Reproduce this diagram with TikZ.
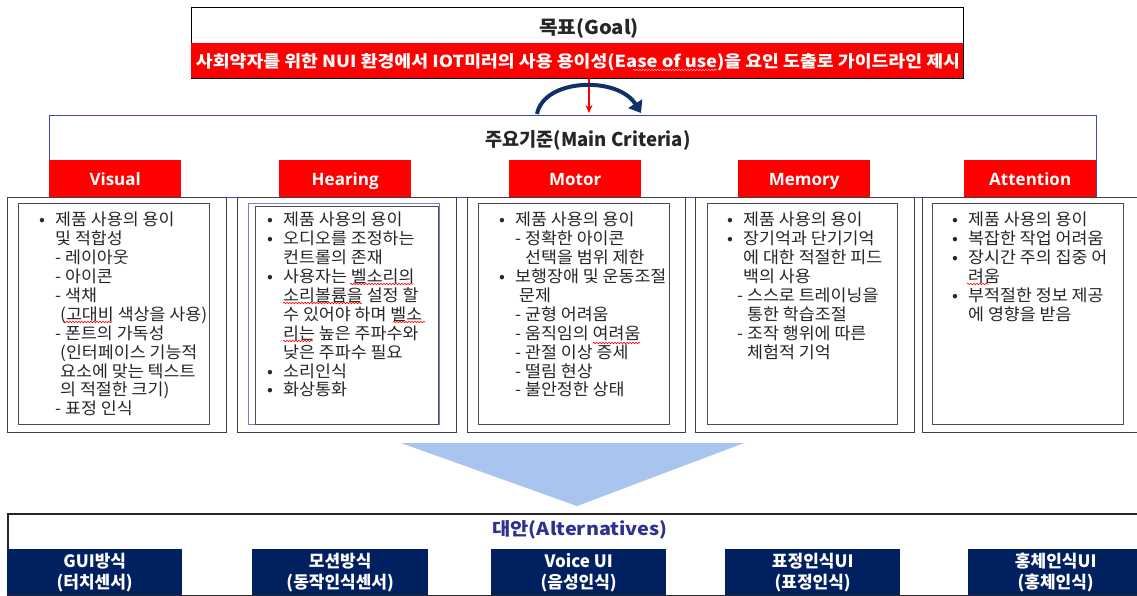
\documentclass[tikz,border=0pt]{standalone}
\usepackage{fontspec}
\setmainfont{Noto Sans CJK KR}
\newfontfamily\tabfont{Open Sans}
\newfontfamily\bodyfont{Noto Sans CJK KR}[FakeStretch=1.05]
\usetikzlibrary{arrows.meta,decorations.pathmorphing}
\definecolor{myred}{HTML}{FF0000}
\definecolor{navybox}{HTML}{002060}
\definecolor{critblue}{HTML}{3F48B8}
\definecolor{arrownavy}{HTML}{10306A}
\definecolor{trifill}{HTML}{A9C4EE}
\definecolor{alttext}{HTML}{2E3192}
\definecolor{bodytext}{HTML}{262626}
\tikzset{
  tabbox/.style={fill=myred, text=white, font=\tabfont\bfseries\fontsize{17}{20}\selectfont,
     minimum width=132pt, minimum height=37pt, inner sep=0pt, anchor=north west,
     text height=14pt, text depth=1pt},
  outerbox/.style={draw=black!75, line width=1pt, anchor=north west, inner sep=0pt,
     minimum height=235pt},
  innerbox/.style={draw=black!70, line width=1pt, anchor=north west, inner sep=0pt,
     minimum height=221pt},
  coltext/.style={anchor=north west, inner sep=0pt, align=left, text=bodytext,
     font=\bodyfont\fontsize{16.5}{18.9}\selectfont},
  altbox/.style={fill=navybox, text=white, font=\bfseries\fontsize{17}{21}\selectfont,
     align=center, anchor=north west, inner sep=0pt, minimum height=46pt},
  spell/.style={draw=myred, line width=0.6pt, decorate,
     decoration={snake, amplitude=0.8pt, segment length=3pt}},
}
\newcommand{\bl}{\makebox[16pt][l]{•}}
\newcommand{\ct}{\hspace*{16pt}}
\begin{document}
\begin{tikzpicture}[x=1pt,y=-1pt]
\useasboundingbox (0,0) rectangle (1137,595);
\fill[white] (0,0) rectangle (1137,595);

% Goal
\node[draw=black, line width=1.3pt, minimum width=772pt, minimum height=71pt, anchor=north west, inner sep=0pt] (goal) at (191,7) {};
\node[font=\bfseries\fontsize{20}{24}\selectfont, text=black!85] (goaltitle) at (589,28) {\resizebox{100pt}{16pt}{목표(Goal)}};
\node[fill=myred, minimum width=772pt, minimum height=35pt, anchor=north west, inner sep=0pt] (goalbar) at (191,43) {};
\node[text=white, font=\bfseries\fontsize{18}{22}\selectfont, inner sep=0pt] (goaltext) at (578,62)
  {\resizebox{764pt}{14pt}{사회약자를 위한 NUI 환경에서 IOT미러의 사용 용이성(Ease of use)을 요인 도출로 가이드라인 제시}};
\draw[spell, draw=white!65!myred] (633,70) -- (717,70);

% Main criteria frame
\node[draw=critblue, line width=1.3pt, minimum width=1047pt, minimum height=82pt, anchor=north west, inner sep=0pt] (crit) at (49,115) {};
\node[font=\bfseries\fontsize{20}{24}\selectfont, text=black!85] (crittitle) at (588,140) {\resizebox{205pt}{16pt}{주요기준(Main Criteria)}};

% arrows between goal and criteria
\coordinate (ra) at (589,113);
\draw[myred, line width=1.2pt, -{Stealth[length=8pt,width=7pt]}] (goalbar.south -| ra) -- (ra);
\coordinate (cs) at (537,114);
\coordinate (ce) at (641,113);
\draw[arrownavy, line width=4pt, -{Triangle[length=11pt,width=16pt]}] (cs) .. controls (544,78) and (618,76) .. (ce);

% tabs
\node[tabbox] (tvis) at (49,160) {Visual};
\node[tabbox] (thear) at (279,160) {Hearing};
\node[tabbox] (tmot) at (509,160) {Motor};
\node[tabbox] (tmem) at (738,160) {Memory};
\node[tabbox] (tatt) at (964,160) {Attention};

% outer boxes
\node[outerbox, minimum width=219pt] (ovis) at (7,197) {};
\node[outerbox, minimum width=219pt] (ohear) at (237,197) {};
\node[outerbox, minimum width=218pt] (omot) at (467,197) {};
\node[outerbox, minimum width=219pt] (omem) at (695,197) {};
\node[outerbox, minimum width=220pt] (oatt) at (922,197) {};

% inner boxes
\node[innerbox, minimum width=191pt] (ivis) at (18,203) {};
\node[draw=critblue!70, line width=1pt, anchor=north west, inner sep=0pt, minimum width=191pt, minimum height=221pt] (ihearb) at (248,203) {};
\node[innerbox, minimum width=183pt, minimum height=218pt] (ihear) at (255,206) {};
\node[innerbox, minimum width=191pt] (imot) at (478,203) {};
\node[innerbox, minimum width=190pt] (imem) at (707,203) {};
\node[innerbox, minimum width=191pt] (iatt) at (932,203) {};

% column texts
\node[coltext] (xvis) at (39,212) {%
\bl 제품 사용의 용이\\
\ct 및 적합성\\
\ct - 레이아웃\\
\ct - 아이콘\\
\ct - 색채\\
\hspace*{21pt}(고대비 색상을 사용)\\
\ct - 폰트의 가독성\\
\hspace*{21pt}(인터페이스 기능적\\
\hspace*{21pt}요소에 맞는 텍스트\\
\hspace*{21pt}의 적절한 크기)\\
\ct - 표정 인식};

\node[coltext] (xhear) at (267,212) {%
\bl 제품 사용의 용이\\
\bl 오디오를 조정하는\\
\ct 컨트롤의 존재\\
\bl 사용자는 벨소리의\\
\ct 소리볼륨을 설정 할\\
\ct 수 있어야 하며 벨소\\
\ct 리는 높은 주파수와\\
\ct 낮은 주파수 필요\\
\bl 소리인식\\
\bl 화상통화};

\node[coltext] (xmot) at (499,212) {%
\bl 제품 사용의 용이\\
\ct - 정확한 아이콘\\
\hspace*{26pt}선택을 범위 제한\\
\bl 보행장애 및 운동조절\\
\hspace*{20pt}문제\\
\ct - 균형 어려움\\
\ct - 움직임의 여려움\\
\ct - 관절 이상 증세\\
\ct - 떨림 현상\\
\ct - 불안정한 상태};

\node[coltext] (xmem) at (727,212) {%
\bl 제품 사용의 용이\\
\bl 장기억과 단기기억\\
\ct 에 대한 적절한 피드\\
\ct 백의 사용\\
\hspace*{10pt}- 스스로 트레이닝을\\
\hspace*{20pt}통한 학습조절\\
\hspace*{10pt}- 조작 행위에 따른\\
\hspace*{20pt}체험적 기억};

\node[coltext] (xatt) at (952,212) {%
\bl 제품 사용의 용이\\
\bl 복잡한 작업 어려움\\
\bl 장시간 주의 집중 어\\
\ct 려움\\
\bl 부적절한 정보 제공\\
\ct 에 영향을 받음};

% spell-check underlines
\draw[spell] (63,322) -- (112,322);
\draw[spell] (350,284) -- (413,284);
\draw[spell] (283,303) -- (362,303);
\draw[spell] (393,322) -- (425,322);
\draw[spell] (283,341) -- (313,341);
\draw[spell] (593,343) -- (640,343);
\draw[spell] (967,284) -- (988,284);

% big arrow triangle
\fill[trifill] (401,443) -- (744,443) -- (577,506) -- cycle;

% alternatives
\node[draw=black!85, line width=1.5pt, minimum width=1135pt, minimum height=82pt, anchor=north west, inner sep=0pt] (alt) at (7,513) {};
\node[text=alttext, font=\bfseries\fontsize{19}{23}\selectfont] (alttitle) at (580,530) {\resizebox{175pt}{15pt}{대안(Alternatives)}};
\node[altbox, minimum width=175pt] (a1) at (7,549) {GUI방식\\(터치센서)};
\node[altbox, minimum width=176pt] (a2) at (252,549) {모션방식\\(동작인식센서)};
\node[altbox, minimum width=175pt] (a3) at (491,549) {Voice UI\\(음성인식)};
\node[altbox, minimum width=175pt] (a4) at (725,549) {표정인식UI\\(표정인식)};
\node[altbox, minimum width=175pt] (a5) at (968,549) {홍체인식UI\\(홍체인식)};
\end{tikzpicture}
\end{document}
